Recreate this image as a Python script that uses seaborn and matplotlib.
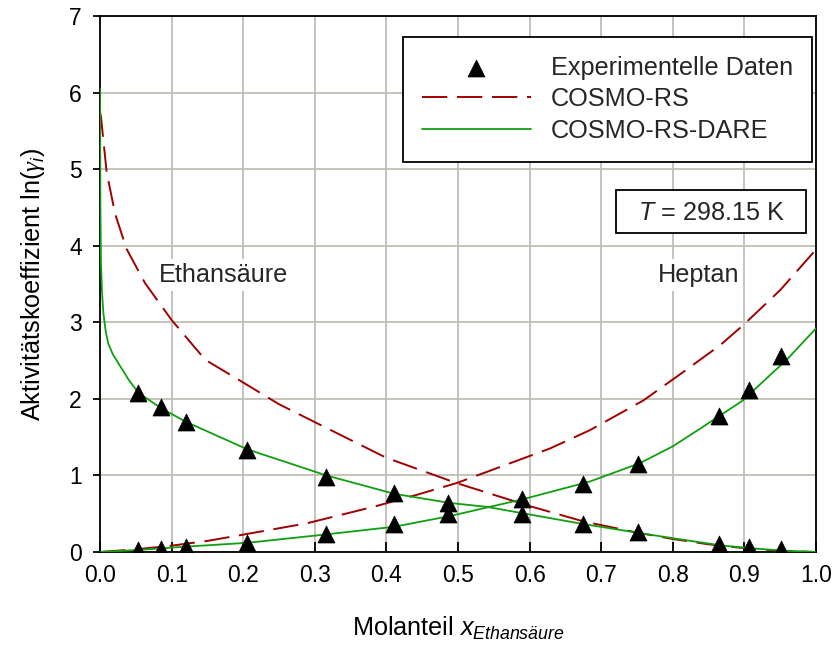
import pandas as pd
import matplotlib
matplotlib.use("Agg")
import matplotlib.pyplot as plt
from matplotlib.patches import Rectangle
import seaborn as sns

x_exp = [0.053, 0.085, 0.120, 0.206, 0.316, 0.411, 0.486, 0.590, 0.675, 0.752, 0.864, 0.907, 0.951]
lng_acid_exp = [2.07, 1.90, 1.70, 1.33, 0.98, 0.77, 0.64, 0.50, 0.37, 0.26, 0.11, 0.07, 0.04]
lng_hept_exp = [0.03, 0.04, 0.06, 0.12, 0.24, 0.37, 0.49, 0.69, 0.89, 1.15, 1.77, 2.11, 2.56]

# COSMO-RS predictions
x_rs_acid = [0.0, 0.0014, 0.0093, 0.021, 0.037, 0.063, 0.100, 0.147, 0.19, 0.25, 0.312, 0.40,
             0.498, 0.60, 0.675, 0.752, 0.80, 0.85, 0.90, 0.95, 1.0]
lng_rs_acid = [5.75, 5.68, 4.96, 4.42, 3.96, 3.51, 3.03, 2.51, 2.27, 1.93, 1.64, 1.23,
               0.90, 0.60, 0.40, 0.25, 0.17, 0.10, 0.05, 0.015, 0.0]
x_rs_hept = [0.0, 0.05, 0.098, 0.15, 0.196, 0.25, 0.289, 0.33, 0.382, 0.44, 0.498, 0.573, 0.628,
             0.684, 0.759, 0.819, 0.838, 0.866, 0.898, 0.95, 1.0]
lng_rs_hept = [0.0, 0.035, 0.08, 0.145, 0.22, 0.31, 0.375, 0.47, 0.59, 0.74, 0.90, 1.16, 1.35,
               1.59, 1.98, 2.38, 2.51, 2.70, 2.96, 3.42, 3.95]

# COSMO-RS-DARE predictions
x_dare_acid = [0.0, 0.0005, 0.0014, 0.0028, 0.0047, 0.008, 0.0116, 0.018, 0.026, 0.040, 0.0535,
               0.085, 0.12, 0.206, 0.316, 0.411, 0.489, 0.54, 0.591, 0.675, 0.752, 0.80, 0.864,
               0.907, 0.951, 1.0]
lng_dare_acid = [6.05, 4.60, 3.77, 3.40, 3.12, 2.88, 2.72, 2.58, 2.46, 2.25, 2.08,
                 1.88, 1.70, 1.34, 1.00, 0.76, 0.64, 0.59, 0.505, 0.365, 0.25, 0.18, 0.09,
                 0.05, 0.02, 0.0]
x_dare_hept = [0.0, 0.05, 0.12, 0.206, 0.316, 0.411, 0.489, 0.54, 0.591, 0.684, 0.754, 0.80,
               0.838, 0.864, 0.898, 0.93, 0.959, 1.0]
lng_dare_hept = [0.0, 0.025, 0.07, 0.12, 0.23, 0.33, 0.47, 0.58, 0.69, 0.92, 1.16, 1.38,
                 1.61, 1.77, 1.98, 2.26, 2.51, 2.92]

RED = "#a00000"
GREEN = "#109f10"
GRID = "#bfbfb4"
FS = 18.2

sns.set_theme(style="white")
plt.rcParams["font.family"] = ["Liberation Sans", "DejaVu Sans"]
plt.rcParams["mathtext.fontset"] = "custom"
plt.rcParams["mathtext.rm"] = "Liberation Sans"
plt.rcParams["mathtext.it"] = "Liberation Sans:italic"
plt.rcParams["mathtext.bf"] = "Liberation Serif:italic"  # used for the gamma glyph

fig = plt.figure(figsize=(8.33, 6.5), dpi=100)
ax = fig.add_axes([100 / 833, 98 / 650, 716 / 833, 536 / 650])

exp_df = pd.DataFrame({"x": x_exp * 2, "lng": lng_acid_exp + lng_hept_exp})
sns.scatterplot(data=exp_df, x="x", y="lng", marker="^", s=150, color="black",
                edgecolor="black", linewidth=0.5, zorder=5, ax=ax, label="Experimentelle Daten")

for xs, ys, lab in [(x_rs_acid, lng_rs_acid, "COSMO-RS"), (x_rs_hept, lng_rs_hept, None)]:
    sns.lineplot(x=xs, y=ys, sort=False, estimator=None, color=RED, lw=1.4,
                 dashes=(13, 5), ax=ax, label=lab, zorder=3)
for xs, ys, lab in [(x_dare_acid, lng_dare_acid, "COSMO-RS-DARE"), (x_dare_hept, lng_dare_hept, None)]:
    sns.lineplot(x=xs, y=ys, sort=False, estimator=None, color=GREEN, lw=1.3,
                 ax=ax, label=lab, zorder=4)

ax.set_xlim(0, 1)
ax.set_ylim(0, 7)
ax.set_xticks([i / 10 for i in range(11)])
ax.set_xticklabels([f"{i / 10:.1f}" for i in range(11)])
ax.set_yticks(range(8))
ax.grid(True, color=GRID, lw=1.3)
ax.set_axisbelow(True)
for sp in ax.spines.values():
    sp.set_color("black")
    sp.set_linewidth(1.3)
ax.tick_params(axis="x", direction="in", length=7, width=1.3, color="black",
               labelsize=16.5, pad=9, labelcolor="black", bottom=True)
ax.tick_params(axis="y", direction="out", length=5, width=1.3, color="black",
               labelsize=16.5, pad=8, labelcolor="black", left=True)

ax.set_xlabel("Molanteil $x_{\\mathit{Ethansäure}}$", fontsize=FS, labelpad=20, color="black")
ax.set_ylabel("Aktivitätskoeffizient ln($\\mathbf{\\gamma}_i$)", fontsize=FS, labelpad=16, color="black")

leg = ax.legend(loc="upper right", bbox_to_anchor=(0.9944, 0.9614), fontsize=FS,
                frameon=True, fancybox=False, framealpha=1, edgecolor="black",
                handlelength=4.3, handletextpad=0.8, borderpad=0.75, labelspacing=0.3,
                borderaxespad=0)
leg.get_frame().set_linewidth(1.3)

bbox_w = dict(facecolor="white", edgecolor="none", pad=3)
ax.text(0.172, 3.62, "Ethansäure", fontsize=FS, ha="center", va="center", bbox=bbox_w, zorder=2)
ax.text(0.836, 3.62, "Heptan", fontsize=FS, ha="center", va="center", bbox=bbox_w, zorder=2)

# temperature box
ax.add_patch(Rectangle((0.7207, 0.5951), 0.2654, 0.0802, transform=ax.transAxes,
                       facecolor="white", edgecolor="black", linewidth=1.3, zorder=6))
ax.text(0.8534, 0.6325, "$T$ = 298.15 K", transform=ax.transAxes, fontsize=FS,
        ha="center", va="center", zorder=7)

fig.savefig("out.png", dpi=100)
